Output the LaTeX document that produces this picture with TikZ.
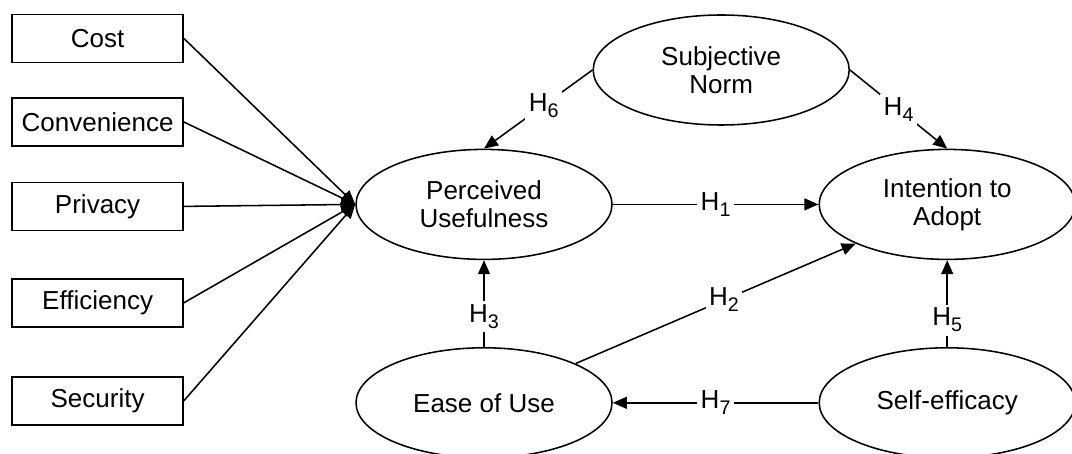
\documentclass[tikz,border=0pt]{standalone}
\usepackage{fontspec}
\setmainfont{Liberation Sans}
\usetikzlibrary{arrows.meta,shapes.geometric}

\newcommand{\hsub}[1]{H\raisebox{-4.25pt}{\fontsize{14}{14}\selectfont #1}}

\begin{document}
\begin{tikzpicture}[
        line width=1.1pt,
        every node/.style={font=\fontsize{18.5}{20}\selectfont},
        construct/.style={ellipse, draw, minimum width=6.4cm, minimum height=2.75cm, inner sep=0pt, align=center},
        factor/.style={rectangle, draw, minimum width=4.275cm, minimum height=1.2cm, inner sep=0pt},
        hyp/.style={fill=white, inner sep=2.5pt},
        >={Triangle[length=10pt,width=8.5pt]}
    ]
        \useasboundingbox (0,0) rectangle (26.8,11.35);

        \node[factor] (cost) at (2.44,10.39) {Cost};
        \node[factor] (conv) at (2.44,8.3) {Convenience};
        \node[factor] (priv) at (2.44,6.19) {Privacy};
        \node[factor] (eff) at (2.44,3.78) {Efficiency};
        \node[factor] (sec) at (2.44,1.33) {Security};

        \node[construct] (norm) at (18.03,9.6) {Subjective\\Norm};
        \node[construct] (useful) at (12.1,6.24) {Perceived\\Usefulness};
        \node[construct] (intent) at (23.68,6.24) {Intention to\\Adopt};
        \node[construct] (ease) at (12.1,1.28) {Ease of Use};
        \node[construct] (self) at (23.68,1.28) {Self-efficacy};

        \draw[->] (cost.east) -- (useful.west);
        \draw[->] (conv.east) -- (useful.west);
        \draw[->] (priv.east) -- (useful.west);
        \draw[->] (eff.east) -- (useful.west);
        \draw[->] (sec.east) -- (useful.west);

        \draw[->] (useful) -- node[hyp] {\hsub{1}} (intent);
        \draw[->] (ease) -- node[hyp, pos=0.53] {\hsub{2}} (intent);
        \draw[->] (ease) -- node[hyp, pos=0.35] {\hsub{3}} (useful);
        \draw[->] (norm.east) -- node[hyp] {\hsub{4}} (intent.north);
        \draw[->] (self) -- node[hyp, pos=0.31] {\hsub{5}} (intent);
        \draw[->] (norm.west) -- node[hyp, pos=0.45] {\hsub{6}} (useful.north);
        \draw[->] (self) -- node[hyp] {\hsub{7}} (ease);
    \end{tikzpicture}
\end{document}
